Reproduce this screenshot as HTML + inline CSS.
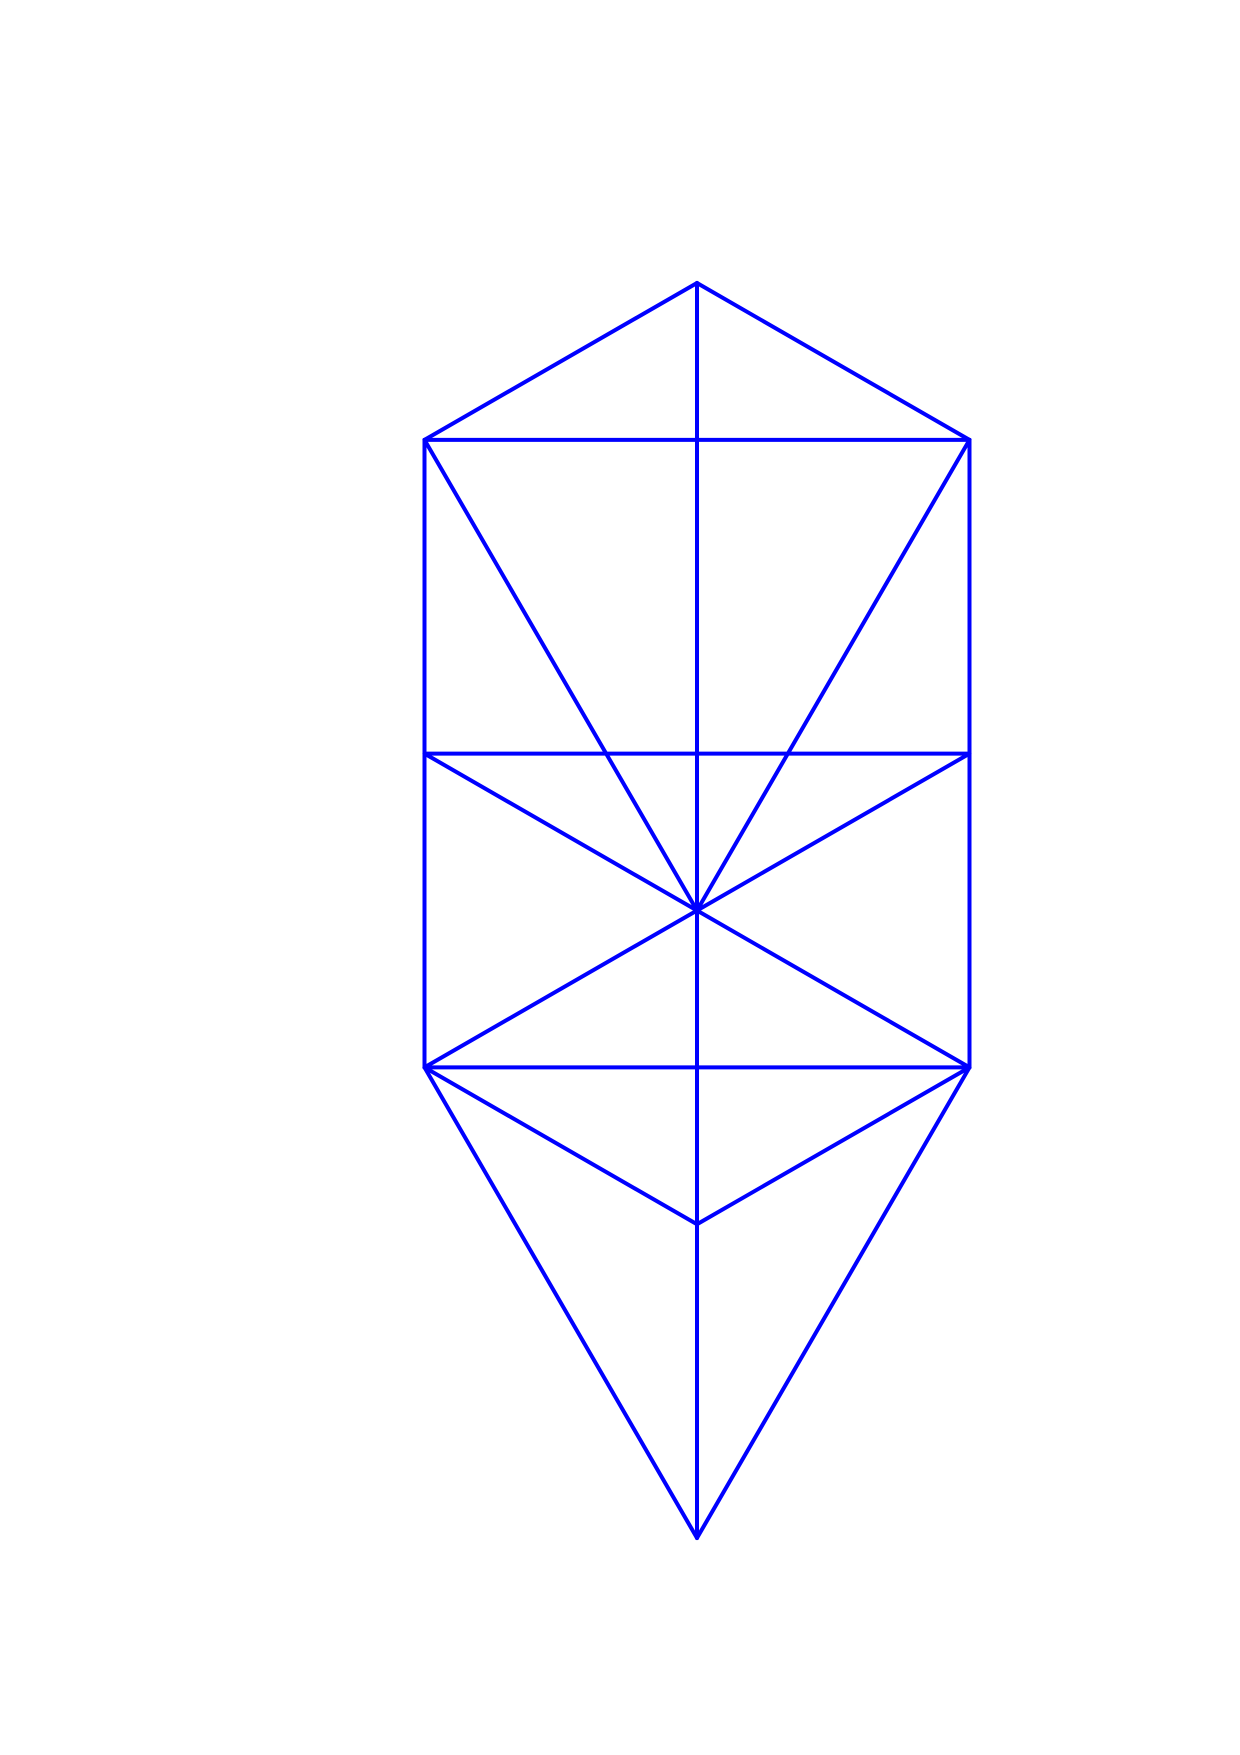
<!DOCTYPE html>
<html>
<head>
<meta charset="utf-8">
<style>
  html,body{margin:0;padding:0;background:#fff;}
  svg{display:block;}
</style>
</head>
<body>
<svg id="chart" width="1240" height="1755" viewBox="0 0 1240 1755" xmlns="http://www.w3.org/2000/svg"></svg>
<script>
// node coordinates in data units (x: -1..1 half-width, y: levels)
const nodeNames = ["T","L1","C1","R1","L2","C2","R2","C","L3","C3","R3","M","B"];
const nodeX = [0, -1, 0, 1, -1, 0, 1, 0, -1, 0, 1, 0, 0];
const nodeY = [8, 7, 7, 7, 5, 5, 5, 4, 3, 3, 3, 2, 0];
const edges = [
  ["T","L1"],["T","R1"],["T","C1"],
  ["L1","C1"],["C1","R1"],
  ["L1","L2"],["L2","L3"],["R1","R2"],["R2","R3"],
  ["C1","C2"],["C2","C"],["C","C3"],["C3","M"],["M","B"],
  ["L2","C2"],["C2","R2"],["L3","C3"],["C3","R3"],
  ["L1","C"],["R1","C"],["L2","C"],["R2","C"],["L3","C"],["R3","C"],
  ["L3","M"],["R3","M"],["L3","B"],["R3","B"]
];
// axis functions
function sx(v){ return 697 + v * 272.5; }
function sy(v){ return 1538 - v * (1538 - 283) / 8; }

const svg = document.getElementById('chart');
const NS = "http://www.w3.org/2000/svg";
const idx = {};
nodeNames.forEach((n,i)=>idx[n]=i);
edges.forEach(e=>{
  const a = idx[e[0]], b = idx[e[1]];
  const ln = document.createElementNS(NS,'line');
  ln.setAttribute('x1', sx(nodeX[a]));
  ln.setAttribute('y1', sy(nodeY[a]));
  ln.setAttribute('x2', sx(nodeX[b]));
  ln.setAttribute('y2', sy(nodeY[b]));
  ln.setAttribute('stroke', '#0000ff');
  ln.setAttribute('stroke-width', '4');
  ln.setAttribute('stroke-linecap', 'round');
  
  
  svg.appendChild(ln);
});
</script>
</body>
</html>
